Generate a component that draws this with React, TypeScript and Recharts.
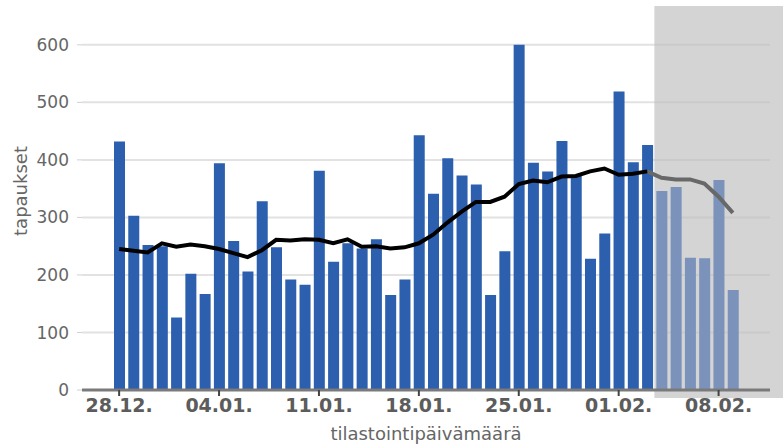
import React from 'react';
import {
  ComposedChart,
  Bar,
  Line,
  Cell,
  XAxis,
  YAxis,
  CartesianGrid,
  ReferenceArea,
} from 'recharts';

const dates = [
  '28.12.', '29.12.', '30.12.', '31.12.', '01.01.', '02.01.', '03.01.',
  '04.01.', '05.01.', '06.01.', '07.01.', '08.01.', '09.01.', '10.01.',
  '11.01.', '12.01.', '13.01.', '14.01.', '15.01.', '16.01.', '17.01.',
  '18.01.', '19.01.', '20.01.', '21.01.', '22.01.', '23.01.', '24.01.',
  '25.01.', '26.01.', '27.01.', '28.01.', '29.01.', '30.01.', '31.01.',
  '01.02.', '02.02.', '03.02.', '04.02.', '05.02.', '06.02.', '07.02.',
  '08.02.', '09.02.',
];

const cases = [
  432, 303, 252, 250, 126, 202, 167, 394, 259, 206, 328, 248, 192, 183,
  381, 223, 255, 246, 262, 165, 192, 443, 341, 403, 373, 357, 165, 241,
  600, 395, 380, 433, 373, 228, 272, 519, 396, 426, 346, 353, 230, 229,
  365, 174,
];

// 7 päivän liukuva keskiarvo, valmis osa
const avg = [
  245, 242, 239, 255, 249, 253, 250, 245, 238, 231, 243, 261, 260, 262,
  261, 255, 262, 249, 250, 246, 248, 255, 270, 291, 310, 327, 327, 336,
  358, 364, 361, 371, 372, 380, 385, 374, 376, 380,
];

// keskeneräinen osa (alkaa 03.02.)
const avgIncomplete = [380, 369, 366, 366, 359, 336, 308];
const incompleteAvgStart = '03.02.';
const incompleteFrom = '04.02.';

const yTicks = [0, 100, 200, 300, 400, 500, 600];

const startIdx = dates.indexOf(incompleteAvgStart);
const fadedIdx = dates.indexOf(incompleteFrom);

const data = dates.map((d, i) => ({
  date: d,
  cases: cases[i],
  avg: i < avg.length ? avg[i] : null,
  avgInc: i >= startIdx ? avgIncomplete[i - startIdx] : null,
}));

const W = 783;
const H = 446;
const textColor = '#666666';

// harmaa alue venyy kuvan oikeaan reunaan asti
const ShadeShape = (props: any) => (
  <rect
    x={props.x}
    y={props.y - 2}
    width={W - props.x}
    height={props.height + 10}
    fill="#bebebe"
    fillOpacity={0.66}
  />
);

const YLabel = (props: any) => {
  const vb = props.viewBox || { x: 0, y: 0, height: 0 };
  const cx = 20;
  const cy = vb.y + vb.height / 2 - 8;
  return (
    <text
      x={cx}
      y={cy}
      transform={`rotate(-90 ${cx} ${cy})`}
      textAnchor="middle"
      dominantBaseline="central"
      fill={textColor}
      fontSize={18}
      fontFamily="DejaVu Sans"
    >
      tapaukset
    </text>
  );
};

export default function App() {
  return (
    <div style={{ position: 'absolute', left: 0, top: 0, width: W, height: H, background: '#fff' }}>
      <ComposedChart
        width={W}
        height={H}
        data={data}
        margin={{ top: 8, right: 13, left: 0, bottom: 0 }}
        barSize={11}
      >
        <CartesianGrid
          vertical={false}
          horizontalValues={yTicks}
          stroke="#e2e2e2"
          strokeWidth={2}
        />
        <ReferenceArea
          x1={incompleteFrom}
          x2={dates[dates.length - 1]}
          ifOverflow="visible"
          shape={ShadeShape}
        />
        <XAxis
          dataKey="date"
          height={56}
          interval={6}
          padding={{ left: 30, right: 30 }}
          axisLine={{ stroke: '#7a7a7a', strokeWidth: 3 }}
          tickLine={{ stroke: '#444', strokeWidth: 2 }}
          tickSize={6}
          tickMargin={3}
          tick={{ fill: '#5c5c5c', fontSize: 19, fontWeight: 'bold', fontFamily: 'DejaVu Sans' }}
          label={{
            value: 'tilastointipäivämäärä',
            position: 'insideBottom',
            offset: 6,
            fill: textColor,
            fontSize: 18,
            fontFamily: 'DejaVu Sans',
          }}
        />
        <YAxis
          width={82}
          domain={[0, 664]}
          ticks={yTicks}
          axisLine={false}
          tickLine={{ stroke: '#d0d0d0', strokeWidth: 1 }}
          tickSize={5}
          tickMargin={8}
          tick={{ fill: textColor, fontSize: 17, fontFamily: 'DejaVu Sans' }}
          label={{ content: YLabel }}
        />
        <Bar dataKey="cases" isAnimationActive={false}>
          {data.map((d, i) => (
            <Cell key={d.date} fill={i >= fadedIdx ? '#7b92bb' : '#2c5fad'} />
          ))}
        </Bar>
        <Line
          dataKey="avgInc"
          stroke="#686868"
          strokeWidth={4}
          dot={false}
          type="linear"
          isAnimationActive={false}
        />
        <Line
          dataKey="avg"
          stroke="#000000"
          strokeWidth={4}
          dot={false}
          type="linear"
          isAnimationActive={false}
        />
      </ComposedChart>
    </div>
  );
}
